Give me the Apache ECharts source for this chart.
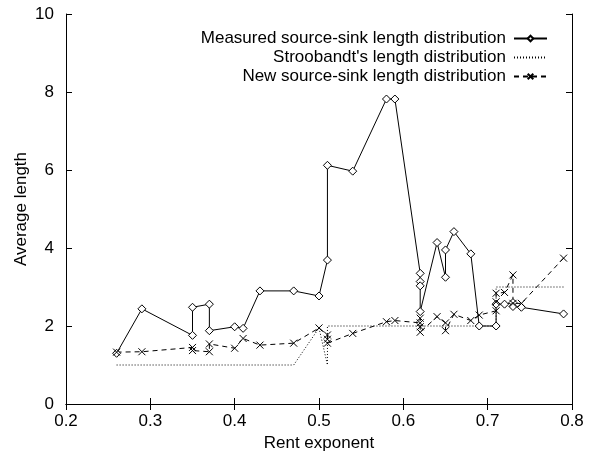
<!DOCTYPE html>
<html>
<head>
  <meta charset="utf-8">
  <title>Average length</title>
  <script src="https://cdn.jsdelivr.net/npm/echarts@6/dist/echarts.min.js"></script>
</head>
<style>
  * { padding: 0; margin: 0; }
  #main { width: 590px; height: 457px; background: #fff; }
</style>
<body>
  <div id="main"></div>
  <script type="text/javascript">
    // rent exponent / average length pairs
    var measuredX = [0.26, 0.29, 0.35, 0.35, 0.37, 0.37, 0.40, 0.41, 0.43, 0.47, 0.50, 0.51, 0.51, 0.54, 0.58, 0.59,
      0.62, 0.62, 0.62, 0.62, 0.64, 0.65, 0.65, 0.66, 0.68, 0.69, 0.71, 0.71, 0.72, 0.73, 0.73, 0.74, 0.79];
    var measuredY = [1.30, 2.44, 1.76, 2.48, 2.56, 1.88, 1.98, 1.94, 2.90, 2.90, 2.77, 3.69, 6.12, 5.97, 7.82, 7.82,
      3.35, 3.14, 3.03, 2.37, 4.14, 3.25, 3.95, 4.42, 3.85, 2.00, 2.00, 2.56, 2.56, 2.60, 2.50, 2.48, 2.31];

    var stroobX = [0.26, 0.29, 0.35, 0.37, 0.40, 0.41, 0.43, 0.47, 0.50, 0.51, 0.51, 0.54, 0.58, 0.59, 0.62, 0.64,
      0.65, 0.66, 0.68, 0.69, 0.71, 0.71, 0.72, 0.73, 0.74, 0.79];
    var stroobY = [1.0, 1.0, 1.0, 1.0, 1.0, 1.0, 1.0, 1.0, 1.95, 1.0, 2.0, 2.0, 2.0, 2.0, 2.0, 2.0,
      2.0, 2.0, 2.0, 2.0, 2.0, 3.0, 3.0, 3.0, 3.0, 3.0];

    var newX = [0.26, 0.29, 0.35, 0.35, 0.37, 0.37, 0.40, 0.41, 0.43, 0.47, 0.50, 0.51, 0.51, 0.51, 0.54, 0.58, 0.59,
      0.62, 0.62, 0.62, 0.62, 0.64, 0.65, 0.65, 0.66, 0.68, 0.69, 0.71, 0.71, 0.71, 0.72, 0.73, 0.73, 0.74, 0.79];
    var newY = [1.33, 1.34, 1.45, 1.37, 1.34, 1.54, 1.43, 1.68, 1.51, 1.56, 1.95, 1.77, 1.66, 1.56, 1.81, 2.11, 2.14,
      2.08, 2.20, 1.98, 1.84, 2.24, 2.08, 1.88, 2.30, 2.14, 2.28, 2.39, 2.62, 2.84, 2.86, 3.31, 2.58, 2.58, 3.74];

    var names = ['Measured source-sink length distribution', "Stroobandt's length distribution",
      'New source-sink length distribution'];

    function pairs(xs, ys) {
      return xs.map(function (x, i) { return [x, ys[i]]; });
    }

    var font = 'Liberation Sans, Arial, sans-serif';
    var tickStyle = { show: true, inside: true, length: 6, lineStyle: { color: '#000' } };
    var lineAxis = { lineStyle: { color: '#000', width: 1 } };
    var crossPath = 'path://M0,0L10,10M10,0L0,10';

    var option = {
      animation: false,
      backgroundColor: '#fff',
      grid: { left: 66, right: 18, top: 14, bottom: 53 },
      legend: {
        orient: 'vertical',
        right: 37,
        top: 25,
        align: 'right',
        itemGap: 2,
        itemWidth: 33,
        itemHeight: 7,
        textStyle: { fontFamily: font, fontSize: 17, lineHeight: 17, color: '#000', padding: [0, 3, 0, 0] },
        data: names
      },
      xAxis: [{
        type: 'value', min: 0.2, max: 0.8, interval: 0.1,
        name: 'Rent exponent', nameLocation: 'middle', nameGap: 28,
        nameTextStyle: { fontFamily: font, fontSize: 17, color: '#000' },
        axisLine: lineAxis, axisTick: tickStyle,
        axisLabel: { fontFamily: font, fontSize: 17, color: '#000', margin: 9, formatter: function (v) { return v.toFixed(1); } },
        splitLine: { show: false }
      }, {
        type: 'value', position: 'top', min: 0.2, max: 0.8, interval: 0.1,
        axisLine: lineAxis, axisTick: tickStyle, axisLabel: { show: false }, splitLine: { show: false }
      }],
      yAxis: [{
        type: 'value', min: 0, max: 10, interval: 2,
        name: 'Average length', nameLocation: 'middle', nameGap: 36, nameMoveOverlap: false,
        nameTextStyle: { fontFamily: font, fontSize: 17, color: '#000' },
        axisLine: lineAxis, axisTick: tickStyle,
        axisLabel: { fontFamily: font, fontSize: 17, color: '#000', margin: 12 },
        splitLine: { show: false }
      }, {
        type: 'value', position: 'right', min: 0, max: 10, interval: 2,
        axisLine: lineAxis, axisTick: tickStyle, axisLabel: { show: false }, splitLine: { show: false }
      }],
      series: [{
        name: names[0], type: 'line',
        data: pairs(measuredX, measuredY),
        symbol: 'diamond', symbolSize: 8,
        itemStyle: { color: '#fff', borderColor: '#000', borderWidth: 1 },
        lineStyle: { color: '#000', width: 1 }
      }, {
        name: names[1], type: 'line',
        data: pairs(stroobX, stroobY),
        symbol: 'none',
        itemStyle: { color: 'rgba(0,0,0,0)', borderColor: 'rgba(0,0,0,0)' },
        lineStyle: { color: '#000', width: 1, type: [1, 2] }
      }, {
        name: names[2], type: 'line',
        data: pairs(newX, newY),
        symbol: crossPath, symbolSize: 7,
        itemStyle: { color: '#000', borderColor: '#000', borderWidth: 1 },
        lineStyle: { color: '#000', width: 1, type: [5, 4] }
      }]
    };

    var myChart = echarts.init(document.getElementById('main'));
    myChart.setOption(option);
  </script>
</body>
</html>
